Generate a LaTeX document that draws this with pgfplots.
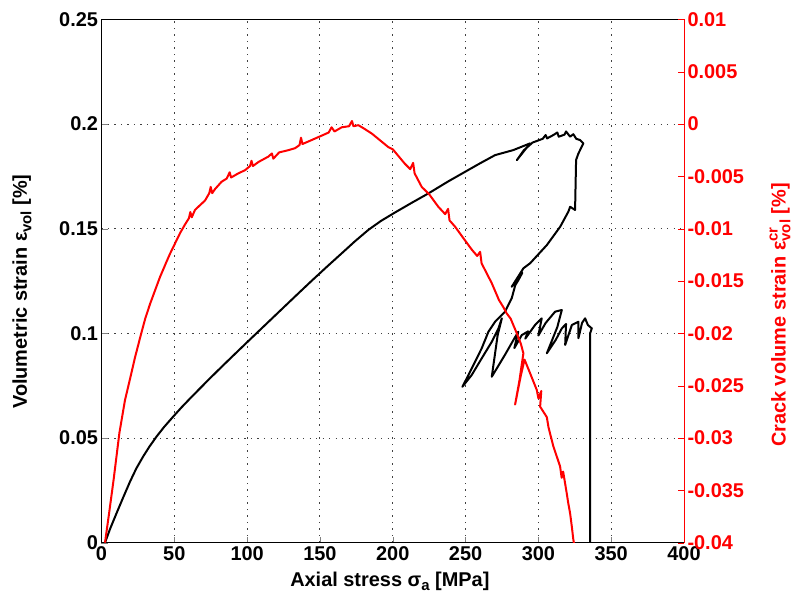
\documentclass[border=0pt]{standalone}
\usepackage{fontspec}
\setmainfont{Liberation Sans}
\usepackage{pgfplots}
\pgfplotsset{compat=1.18}
\newcommand{\sub}[1]{\raisebox{-0.45ex}{\fontsize{15}{15}\selectfont #1}}
\newcommand{\supsub}[2]{\rlap{\raisebox{0.75ex}{\fontsize{15}{15}\selectfont #1}}\raisebox{-0.45ex}{\fontsize{15}{15}\selectfont #2}}
\pgfplotsset{
  common/.style={
    scale only axis, width=582.5bp, height=523.2bp,
    xmin=0, xmax=400,
    tick label style={font=\fontsize{20}{22}\selectfont\bfseries},
    label style={font=\fontsize{20}{22}\selectfont\bfseries},
    tick align=inside, major tick length=6bp,
    /pgf/number format/assume math mode=true,
    scaled ticks=false,
    clip=true,
  }
}
\begin{document}
\begin{tikzpicture}
\begin{axis}[common,
  ymin=0, ymax=0.25,
  xtick={0,50,100,150,200,250,300,350,400},
  xticklabels={0,50,100,150,200,250,300,350,400},
  ytick={0,0.05,0.1,0.15,0.2,0.25},
  yticklabels={0,0.05,0.1,0.15,0.2,0.25},
  xtick pos=bottom, ytick pos=left,
  grid=major,
  grid style={dash pattern=on 1.3bp off 5.2bp, black!75, line width=0.9bp},
  axis line style={line width=0.8bp},
  xlabel={Axial stress σ\sub{a} [MPa]},
  ylabel={Volumetric strain ε\sub{vol} [\%]},
  xlabel style={at={(axis description cs:0.495,-0.0828)}, anchor=base},
  ylabel style={at={(axis description cs:-0.1365,0.48)}, anchor=center},
]
\addplot[black, line width=2bp, line join=round] coordinates {
(2.4,0) (6,0.0068) (10.4,0.0142) (15,0.0218) (19.6,0.0292) (24,0.0356) (28.7,0.0413) (33,0.0460) (37.9,0.0508)
(43,0.0553) (49.3,0.0603) (55,0.0647) (60.8,0.0689) (68,0.0740) (75,0.0789) (82,0.0837) (90,0.0891) (100,0.0958) (111,0.1031) (122.6,0.1108)
(133,0.1177) (144.4,0.1252) (155,0.1320) (165,0.1383) (174,0.1440) (183.3,0.1495) (192,0.1538) (201.6,0.1578) (213,0.1624) (224.5,0.1669)
(238,0.1726) (251.9,0.1781) (260,0.1813) (270.3,0.1852) (282.8,0.1876) (294.3,0.1908)
(285.2,0.1828) (290,0.1875) (296,0.1912) (303,0.1930) (305,0.1948) (306,0.1932)
(310.3,0.1948) (313,0.1960) (314,0.1940) (318,0.1950) (319,0.1965) (321.8,0.1940)
(324,0.1952) (326,0.1930) (328.6,0.1924) (330.9,0.1908) (327.5,0.186)
(325.9,0.1829) (325.2,0.159) (321.8,0.1605) (320.6,0.1582) (315,0.151)
(305.8,0.1422) (294.3,0.1335) (289.7,0.1311) (281.7,0.1223) (289,0.1290)
(286.3,0.1255) (284.1,0.123) (281.7,0.1168) (277.1,0.1104) (270.3,0.1056)
(265.7,0.1008) (261.1,0.0929) (255.4,0.0849) (249.6,0.0769) (247.8,0.0745)
(254.2,0.0801) (261.1,0.0881) (268,0.096) (272.6,0.1024) (274.9,0.1072)
(272,0.099) (268,0.0793) (277,0.0897) (283,0.097) (286.2,0.1008) (283.5,0.093)
(288.6,0.0992) (293,0.1010) (291,0.0975) (297.7,0.1040) (302.3,0.1072)
(300,0.0990) (305,0.1050) (311.5,0.1104) (316.1,0.1112) (313,0.1030)
(305.8,0.0905) (312,0.0970) (316.1,0.1024) (319,0.1045) (318.4,0.0945)
(323,0.1040) (327.5,0.1056) (327.5,0.0977) (330,0.1050) (332.1,0.1072)
(334,0.1040) (336.7,0.1024) (335.5,0.1000) (335.5,-0.01)
};
\end{axis}
\begin{axis}[common,
  ymin=-0.04, ymax=0.01,
  axis x line=none, axis y line*=right,
  ytick={-0.04,-0.035,-0.03,-0.025,-0.02,-0.015,-0.01,-0.005,0,0.005,0.01},
  yticklabels={-0.04,-0.035,-0.03,-0.025,-0.02,-0.015,-0.01,-0.005,0,0.005,0.01},
  y axis line style={red, line width=0.8bp},
  ytick style={red},
  yticklabel style={red},
  ylabel={Crack volume strain ε\supsub{cr}{vol} [\%]},
  ylabel style={red, at={(axis description cs:1.165,0.435)}, anchor=center},
]
\addplot[red, line width=2bp, line join=round] coordinates {
(2.4,-0.040) (5.2,-0.0372) (8.3,-0.0340) (12.3,-0.0295) (16.1,-0.0264) (20,-0.0241)
(23,-0.0223) (26.9,-0.0202) (30,-0.0186) (33.3,-0.0172) (37,-0.0158) (40.2,-0.0146)
(44.8,-0.0131) (47,-0.0124) (50.5,-0.0114) (54,-0.0104) (57.3,-0.0096) (60,-0.0090)
(61,-0.0084) (62,-0.0089) (64.2,-0.0082) (68,-0.0077) (71.1,-0.0073) (74,-0.0066)
(75,-0.0060) (76,-0.0066) (78,-0.0062) (82.5,-0.0055) (86,-0.0052) (88,-0.0046)
(89,-0.0051) (94,-0.0047) (98.6,-0.0044) (102,-0.0040) (103,-0.0035) (104,-0.0040)
(108,-0.0036) (114.6,-0.0031) (117,-0.0028) (118,-0.0033) (122,-0.0027)
(128,-0.0025) (132.9,-0.0023) (136,-0.0020) (137,-0.0013) (138,-0.0019)
(143,-0.0016) (151.2,-0.0011) (156,-0.0008) (158,-0.0003) (160,-0.0007)
(165,-0.0003) (170,-0.0002) (172,0.0003) (173,-0.0002) (176.4,-0.0001)
(180,-0.0004) (185.6,-0.0009) (190,-0.0014) (197,-0.0022) (200,-0.0024)
(203,-0.0029) (208.4,-0.0038) (212,-0.0043) (214,-0.0037) (215,-0.0047)
(219.9,-0.0060) (225,-0.0067) (231.3,-0.0079) (236,-0.0086) (238,-0.0081)
(239,-0.0092) (242.8,-0.0098) (248,-0.0108) (254.3,-0.0120) (258,-0.0126)
(260,-0.0122) (261,-0.0133) (268,-0.0152) (272.9,-0.0168) (276,-0.0175)
(278.3,-0.0181) (281,-0.0186) (285.2,-0.0200) (288,-0.0210) (289.7,-0.0219)
(287,-0.0245) (284,-0.0268) (288,-0.0240) (290.5,-0.0225) (294.3,-0.0238)
(298.9,-0.0254) (300,-0.0262) (302,-0.0255) (301.2,-0.0270) (305.8,-0.0280)
(307,-0.0290) (310.3,-0.0308) (312,-0.0315) (314.9,-0.0327) (316,-0.0338)
(317,-0.0332) (319.5,-0.0353) (320.5,-0.0362) (321.8,-0.0372) (323,-0.0385)
(324,-0.0397) (325,-0.0405)
};
\end{axis}
\pgfresetboundingbox
\path (-101.5bp,-66.3bp) rectangle (700.5bp,542.7bp);
\end{tikzpicture}
\end{document}
